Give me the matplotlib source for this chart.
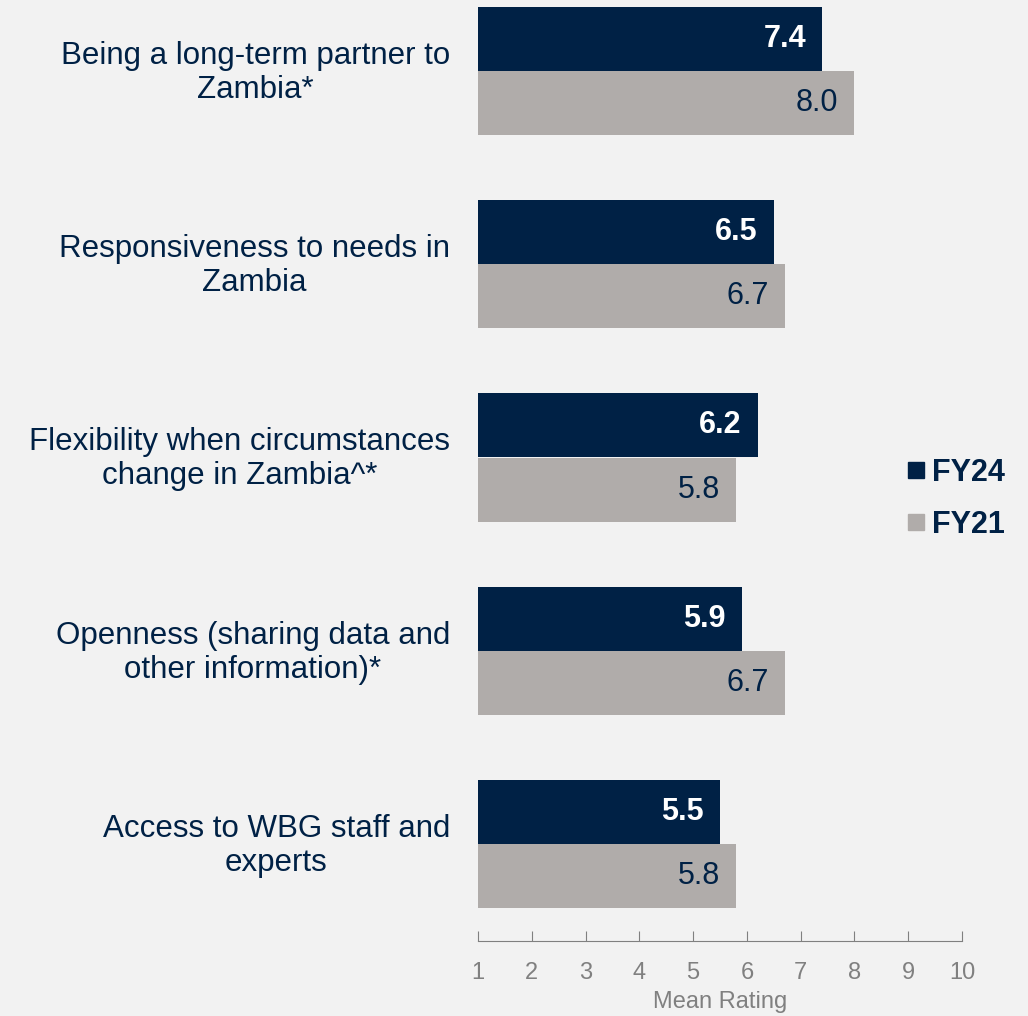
import numpy as np
import matplotlib.pyplot as plt
from matplotlib.lines import Line2D

categories = [
    "Being a long-term partner to\nZambia*",
    "Responsiveness to needs in\nZambia",
    "Flexibility when circumstances\nchange in Zambia^*",
    "Openness (sharing data and\nother information)*",
    "Access to WBG staff and\nexperts",
]
fy24 = [7.4, 6.5, 6.2, 5.9, 5.5]
fy21 = [8.0, 6.7, 5.8, 6.7, 5.8]
ticks = list(range(1, 11))

navy = "#002145"
grey = "#b0acaa"
bg = "#f2f2f2"
tick_grey = "#808080"

plt.rcParams["font.family"] = ["Liberation Sans", "DejaVu Sans"]

fig = plt.figure(figsize=(10.28, 10.16), dpi=100, facecolor=bg)
ax = fig.add_axes([478 / 1028, 1 - 941 / 1016, (962 - 478) / 1028, 941 / 1016])
ax.set_facecolor(bg)

y = np.arange(len(categories))
h = 0.332
ax.barh(y - h / 2, np.array(fy24) - 1, left=1, height=h, color=navy)
ax.barh(y + h / 2, np.array(fy21) - 1, left=1, height=h, color=grey)

for yi, v in zip(y, fy24):
    ax.text(v - 0.3, yi - h / 2, f"{v:.1f}", ha="right", va="center",
            color="white", fontsize=22, fontweight="bold")
for yi, v in zip(y, fy21):
    ax.text(v - 0.3, yi + h / 2, f"{v:.1f}", ha="right", va="center",
            color=navy, fontsize=22)

for yi, c in zip(y, categories):
    ax.text(-28 / 484, yi + 0.01, c, transform=ax.get_yaxis_transform(), ha="right",
            va="center", multialignment="center", color=navy, fontsize=22.5,
            linespacing=1.17)

ax.set_xlim(1, 10)
ax.set_ylim((941 - 71) / 193.25, -71 / 193.25)
ax.set_xticks(ticks)
ax.tick_params(axis="x", direction="in", length=7, color=tick_grey,
               labelcolor=tick_grey, labelsize=17, pad=15)
ax.set_yticks([])
for s in ["top", "right", "left"]:
    ax.spines[s].set_visible(False)
ax.spines["bottom"].set_color(tick_grey)
ax.set_xlabel("Mean Rating", color=tick_grey, fontsize=17, labelpad=5)

handles = [
    Line2D([], [], marker="s", ls="", color=navy, markersize=12),
    Line2D([], [], marker="s", ls="", color=grey, markersize=12),
]
leg = fig.legend(handles, ["FY24", "FY21"], loc="center left",
                 bbox_to_anchor=(892 / 1028, 1 - 499 / 1016), frameon=False,
                 handlelength=0.6, handletextpad=0.2, labelspacing=0.72,
                 borderpad=0, prop={"size": 22, "weight": "bold"})
for t in leg.get_texts():
    t.set_color(navy)

fig.savefig("out.png", dpi=100, facecolor=bg)
